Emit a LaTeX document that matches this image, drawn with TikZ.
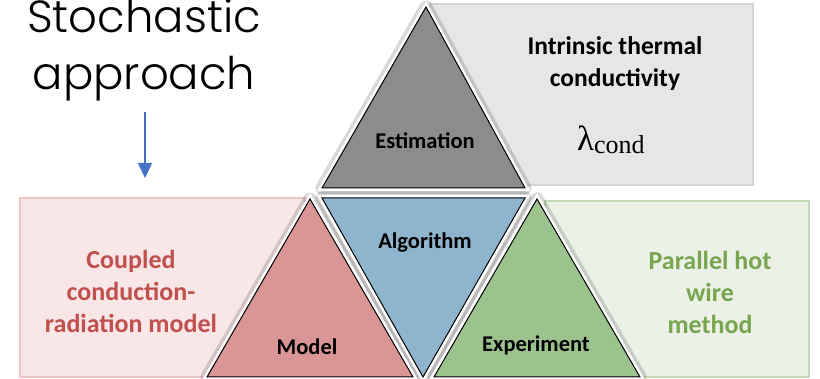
\documentclass[tikz,border=0pt]{standalone}
\usepackage{fontspec}
\setmainfont{Carlito}
\newfontfamily\gothic{Poppins}[UprightFont={* Light}]
\newfontfamily\lamfont{Liberation Serif}
\usetikzlibrary{arrows.meta}
\definecolor{grayfill}{HTML}{E6E6E6}
\definecolor{grayline}{HTML}{D4D4D4}
\definecolor{pinkfill}{HTML}{F9E6E6}
\definecolor{pinkline}{HTML}{EFC4C4}
\definecolor{greenfill}{HTML}{EBF1E6}
\definecolor{greenline}{HTML}{C2D9B4}
\definecolor{estfill}{HTML}{8C8C8C}
\definecolor{algfill}{HTML}{8EB4CE}
\definecolor{modfill}{HTML}{DA9694}
\definecolor{expfill}{HTML}{9CC28D}
\definecolor{redtext}{HTML}{C0504D}
\definecolor{greentext}{HTML}{77A550}
\definecolor{arrowblue}{HTML}{4472C4}
\tikzset{
  infobox/.style={line width=2.5pt},
  halo/.style={line width=13pt, draw=black, draw opacity=0.15, line join=round},
  whiteedge/.style={line width=6pt, draw=white, line join=miter},
  tri/.style={draw=black, line width=1pt, line join=miter},
  lbl/.style={font=\fontsize{22.5}{26}\selectfont\bfseries, text=black},
  side/.style={font=\fontsize{26}{32}\selectfont\bfseries, align=center},
  stotext/.style={font=\gothic\fontsize{45}{57}\selectfont, inner sep=0pt, anchor=base},
}
\begin{document}
\begin{tikzpicture}[x=1pt,y=-1pt]
\clip (0,0) rectangle (820,379);
\fill[white] (0,0) rectangle (820,379);
% boxes
\draw[infobox, draw=grayline, fill=grayfill] (430,4) rectangle (753,185);
\draw[infobox, draw=pinkline, fill=pinkfill] (20,198) rectangle (305,377);
\draw[infobox, draw=greenline, fill=greenfill] (545,201) rectangle (809,377);
% triangle halos
\draw[halo] (426,7) -- (322,188) -- (525,188) -- cycle;
\draw[halo] (322,198) -- (525,198) -- (423,377) -- cycle;
\draw[halo] (310,199) -- (207,377) -- (413,377) -- cycle;
\draw[halo] (537,199) -- (434,377) -- (640,377) -- cycle;
% white edges
\draw[whiteedge] (426,7) -- (322,188) -- (525,188) -- cycle;
\draw[whiteedge] (322,198) -- (525,198) -- (423,377) -- cycle;
\draw[whiteedge] (310,199) -- (207,377) -- (413,377) -- cycle;
\draw[whiteedge] (537,199) -- (434,377) -- (640,377) -- cycle;
% triangles
\draw[tri, fill=estfill] (426,7) -- (322,188) -- (525,188) -- cycle;
\draw[tri, fill=algfill] (322,198) -- (525,198) -- (423,377) -- cycle;
\draw[tri, fill=modfill] (310,199) -- (207,377) -- (413,377) -- cycle;
\draw[tri, fill=expfill] (537,199) -- (434,377) -- (640,377) -- cycle;
% triangle labels
\node[lbl] (est) at (425,141) {Estimation};
\node[lbl] (alg) at (425,243) {Algorithm};
\node[lbl] (mod) at (307,347) {Model};
\node[lbl] (exp) at (536,345) {Experiment};
% side texts
\node[side, text=black, font=\fontsize{25.5}{32}\selectfont\bfseries] (intr) at (615,64) {Intrinsic thermal\\conductivity};
\node[text=black, inner sep=0pt, anchor=base west] (lam) at (577,151) {\lamfont\fontsize{35}{38}\selectfont λ\raisebox{-3pt}{\fontsize{26}{28}\selectfont cond}};
\node[side, text=redtext] (coup) at (131,291) {Coupled\\conduction-\\radiation model};
\node[side, text=greentext] (par) at (710,292) {Parallel hot\\wire\\method};
% stochastic approach
\node[stotext] (sto1) at (144,33) {Stochastic};
\node[stotext] (sto2) at (144,90) {approach};
\coordinate (a1) at (145,112);
\coordinate (a2) at (145,178);
\draw[arrowblue, line width=1.6pt, -{Triangle[length=15pt,width=14pt]}] (a1) -- (a2);
\end{tikzpicture}
\end{document}
